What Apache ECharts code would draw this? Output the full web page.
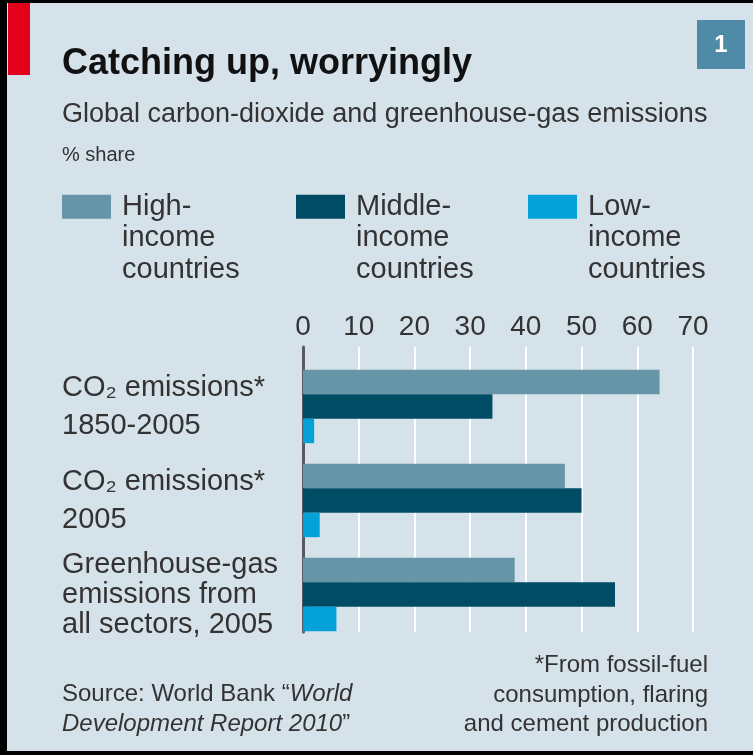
<!DOCTYPE html>
<html>
<head>
<meta charset="utf-8">
<script src="https://cdn.jsdelivr.net/npm/echarts@6/dist/echarts.min.js"></script>
<style>
  html, body { margin: 0; padding: 0; background: #d6e2ea; }
  #chart { width: 753px; height: 755px; }
</style>
</head>
<body>
<div id="chart"></div>
<script>
// ---- data ----
const categories = ['CO₂ emissions*\n1850-2005', 'CO₂ emissions*\n2005', 'Greenhouse-gas\nemissions from\nall sectors, 2005'];
const seriesNames = ['High-\nincome\ncountries', 'Middle-\nincome\ncountries', 'Low-\nincome\ncountries'];
const highIncome = [64, 47, 38];
const middleIncome = [34, 50, 56];
const lowIncome = [2, 3, 6];
const tickValues = [0, 10, 20, 30, 40, 50, 60, 70];

const FONT = '"Liberation Sans", Arial, sans-serif';
const colors = ['#6795a8', '#014c65', '#04a2d9'];

const chart = echarts.init(document.getElementById('chart'), null, { renderer: 'canvas' });

const legendBase = {
  orient: 'horizontal', icon: 'rect', itemWidth: 49, itemHeight: 24,
  padding: 0, top: 128, selectedMode: false,
  // two blank lines on top so that the first text line sits level with the swatch
  formatter: function (name) {
    return '\n\n' + name.split('\n').map(function (l) { return '{t|' + l + '}'; }).join('\n');
  },
  textStyle: { fontFamily: FONT, fontSize: 29, lineHeight: 31.5, color: '#333',
    rich: { t: { fontFamily: FONT, fontSize: 29, lineHeight: 31.5, color: '#333', padding: [0, 0, 0, 6] } } }
};

const option = {
  backgroundColor: '#d6e2ea',
  animation: false,
  title: [
    { text: 'Catching up, worryingly', left: 62, top: 46, padding: 0,
      textStyle: { fontFamily: FONT, fontSize: 36, fontWeight: 'bold', color: '#111' } },
    { text: 'Global carbon-dioxide and greenhouse-gas emissions', left: 62, top: 101, padding: 0,
      textStyle: { fontFamily: FONT, fontSize: 27, fontWeight: 'normal', color: '#333' } },
    { text: '% share', left: 62, top: 145, padding: 0,
      textStyle: { fontFamily: FONT, fontSize: 20, fontWeight: 'normal', color: '#333' } },
    { text: 'Source: World Bank “{i|World}\n{i|Development Report 2010}”', left: 62, top: 680, padding: 0,
      textStyle: { fontFamily: FONT, fontSize: 24, fontWeight: 'normal', color: '#333', lineHeight: 29.5,
        rich: { i: { fontFamily: FONT, fontSize: 24, fontStyle: 'italic', color: '#333', lineHeight: 29.5 } } } }
  ],
  legend: [
    Object.assign({}, legendBase, { left: 62, data: [seriesNames[0]] }),
    Object.assign({}, legendBase, { left: 296, data: [seriesNames[1]] }),
    Object.assign({}, legendBase, { left: 528, data: [seriesNames[2]] })
  ],
  grid: [
    { left: 303, right: 60, top: 359.5, bottom: 113.5 },
    { left: 303, right: 60, top: 347, bottom: 123 }
  ],
  xAxis: [
    { type: 'value', gridIndex: 0, min: 0, max: 70, interval: 10,
      axisLabel: { show: false }, axisLine: { show: false }, axisTick: { show: false }, splitLine: { show: false } },
    { type: 'value', gridIndex: 1, position: 'top', min: tickValues[0], max: tickValues[tickValues.length - 1], interval: 10,
      axisLabel: { show: true, fontFamily: FONT, fontSize: 28, color: '#333', margin: 6 },
      axisLine: { show: false }, axisTick: { show: false },
      splitLine: { show: true, showMinLine: false, lineStyle: { color: '#ffffff', width: 2 } } }
  ],
  yAxis: [
    { type: 'category', gridIndex: 0, data: categories, inverse: true,
      axisLine: { show: false }, axisTick: { show: false },
      axisLabel: {
        show: true, align: 'left', margin: 241,
        formatter: function (v, i) {
          const st = i === 2 ? 'b' : 'a';
          return v.split('\n').map(function (l) { return '{' + st + '|' + l + '}'; }).join('\n');
        },
        rich: {
          a: { fontFamily: FONT, fontSize: 29, lineHeight: 38, color: '#333' },
          b: { fontFamily: FONT, fontSize: 29, lineHeight: 30, color: '#333' }
        }
      } },
    { type: 'value', gridIndex: 1, min: 0, max: 1, offset: 1,
      axisLabel: { show: false }, axisTick: { show: false }, splitLine: { show: false },
      axisLine: { show: true, lineStyle: { color: '#5a5a5a', width: 3 } } }
  ],
  series: [
    { name: seriesNames[0], type: 'bar', xAxisIndex: 0, yAxisIndex: 0, data: highIncome,
      itemStyle: { color: colors[0] }, barGap: '0%', barCategoryGap: '22%' },
    { name: seriesNames[1], type: 'bar', xAxisIndex: 0, yAxisIndex: 0, data: middleIncome,
      itemStyle: { color: colors[1] }, barGap: '0%', barCategoryGap: '22%' },
    { name: seriesNames[2], type: 'bar', xAxisIndex: 0, yAxisIndex: 0, data: lowIncome,
      itemStyle: { color: colors[2] }, barGap: '0%', barCategoryGap: '22%' }
  ],
  graphic: [
    { type: 'rect', left: 0, top: 0, shape: { width: 7, height: 755 }, style: { fill: '#000' }, z: 100 },
    { type: 'rect', left: 0, top: 0, shape: { width: 753, height: 3 }, style: { fill: '#000' }, z: 100 },
    { type: 'rect', left: 0, top: 751, shape: { width: 753, height: 4 }, style: { fill: '#000' }, z: 100 },
    { type: 'rect', left: 8, top: 3, shape: { width: 22, height: 72 }, style: { fill: '#e3001b' }, z: 100 },
    { type: 'group', left: 697, top: 20, z: 100, children: [
      { type: 'rect', shape: { x: 0, y: 0, width: 48, height: 49 }, style: { fill: '#4f8ba7' } },
      { type: 'text', x: 24, y: 25, style: { text: '1', fill: '#ffffff', font: 'bold 24px ' + FONT, align: 'center', verticalAlign: 'middle' } }
    ] },
    { type: 'text', x: 708, y: 651, z: 100,
      style: { text: '*From fossil-fuel\nconsumption, flaring\nand cement production',
        fill: '#333', font: '24px ' + FONT, lineHeight: 29.5, align: 'right', verticalAlign: 'top' } }
  ]
};

chart.setOption(option);
</script>
</body>
</html>
